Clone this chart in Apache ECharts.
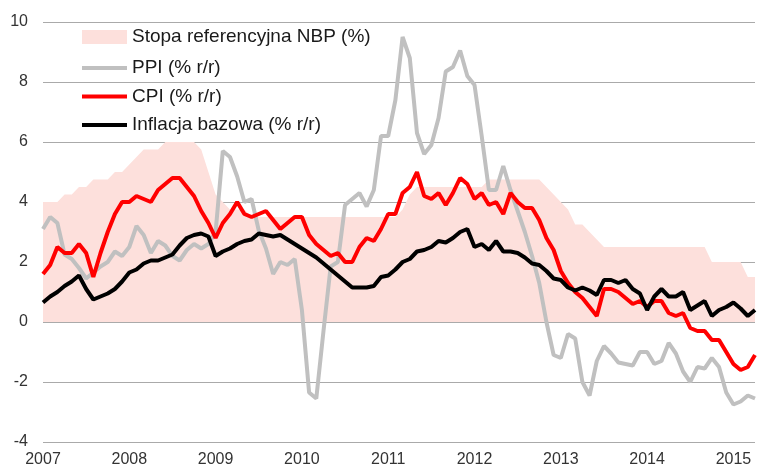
<!DOCTYPE html>
<html>
<head>
<meta charset="utf-8">
<script src="https://cdn.jsdelivr.net/npm/echarts@6/dist/echarts.min.js"></script>
<style>
  html, body { margin: 0; padding: 0; background: #fff; }
  #chart { width: 758px; height: 472px; }
</style>
</head>
<body>
<div id="chart"></div>
<script>
// miesiace od 2007-01 do 2015-04
var years = ['2007', '2008', '2009', '2010', '2011', '2012', '2013', '2014', '2015'];
var months = [];
for (var y = 0; y < years.length; y++) {
  for (var m = 1; m <= 12; m++) {
    if (years[y] === '2015' && m > 4) break;
    months.push(years[y] + '-' + (m < 10 ? '0' + m : m));
  }
}

// stopa referencyjna NBP (%)
var stopaRef = [
  4, 4, 4, 4.25, 4.25, 4.5, 4.5, 4.75, 4.75, 4.75, 5, 5,
  5.25, 5.5, 5.75, 5.75, 5.75, 6, 6, 6, 6, 6, 5.75, 5,
  4.25, 4, 3.75, 3.75, 3.75, 3.5, 3.5, 3.5, 3.5, 3.5, 3.5, 3.5,
  3.5, 3.5, 3.5, 3.5, 3.5, 3.5, 3.5, 3.5, 3.5, 3.5, 3.5, 3.5,
  3.5, 3.5, 3.75, 4.25, 4.5, 4.5, 4.5, 4.5, 4.5, 4.5, 4.5, 4.5,
  4.5, 4.5, 4.75, 4.75, 4.75, 4.75, 4.75, 4.75, 4.75, 4.75, 4.5, 4.25,
  4, 3.75, 3.25, 3.25, 3, 2.75, 2.5, 2.5, 2.5, 2.5, 2.5, 2.5,
  2.5, 2.5, 2.5, 2.5, 2.5, 2.5, 2.5, 2.5, 2.5, 2, 2, 2,
  2, 2, 1.5, 1.5
];

// PPI (% r/r)
var ppi = [
  3.1, 3.5, 3.3, 2.25, 2.1, 1.8, 1.45, 1.65, 1.85, 2.0, 2.35, 2.2,
  2.5, 3.2, 2.9, 2.3, 2.7, 2.55, 2.2, 2.05, 2.4, 2.6, 2.45, 2.6,
  3.0, 5.7, 5.5, 4.85, 4.0, 4.1, 3.05, 2.45, 1.6, 2.0, 1.9, 2.1,
  0.4, -2.35, -2.55, -0.3, 1.85, 2.0, 3.9, 4.1, 4.3, 3.85, 4.4, 6.2,
  6.2, 7.4, 9.5, 8.8, 6.3, 5.6, 5.9, 6.8, 8.35, 8.5, 9.05, 8.2,
  7.9, 6.2, 4.4, 4.4, 5.2, 4.4, 3.7, 3.0, 2.2, 1.3, 0.0, -1.1,
  -1.2, -0.4, -0.55, -2.0, -2.45, -1.3, -0.8, -1.05, -1.35, -1.4, -1.45, -1.0,
  -1.0, -1.4, -1.3, -0.7, -1.05, -1.65, -2.0, -1.5, -1.55, -1.2, -1.5, -2.35,
  -2.75, -2.65, -2.45, -2.55
];

// CPI (% r/r)
var cpi = [
  1.6, 1.9, 2.5, 2.3, 2.3, 2.6, 2.3, 1.5, 2.3, 3.0, 3.6, 4.0,
  4.0, 4.2, 4.1, 4.0, 4.4, 4.6, 4.8, 4.8, 4.5, 4.2, 3.7, 3.3,
  2.8, 3.3, 3.6, 4.0, 3.6, 3.5, 3.6, 3.7, 3.4, 3.1, 3.3, 3.5,
  3.5, 2.9, 2.6, 2.4, 2.2, 2.3, 2.0, 2.0, 2.5, 2.8, 2.7, 3.1,
  3.6, 3.6, 4.3, 4.5, 5.0, 4.2, 4.1, 4.3, 3.9, 4.3, 4.8, 4.6,
  4.1, 4.3, 3.9, 4.0, 3.6, 4.3, 4.0, 3.8, 3.8, 3.4, 2.8, 2.4,
  1.7, 1.3, 1.0, 0.8, 0.5, 0.2, 1.1, 1.1, 1.0, 0.8, 0.6, 0.7,
  0.5, 0.7, 0.7, 0.3, 0.2, 0.3, -0.2, -0.3, -0.3, -0.6, -0.6, -1.0,
  -1.4, -1.6, -1.5, -1.1
];

// inflacja bazowa (% r/r)
var bazowa = [
  0.65, 0.85, 1.0, 1.2, 1.35, 1.55, 1.1, 0.75, 0.85, 0.95, 1.1, 1.35,
  1.65, 1.75, 1.95, 2.05, 2.05, 2.15, 2.25, 2.55, 2.8, 2.9, 2.95, 2.85,
  2.2, 2.35, 2.45, 2.6, 2.7, 2.75, 2.95, 2.9, 2.85, 2.9, 2.75, 2.6,
  2.45, 2.3, 2.15, 1.95, 1.75, 1.55, 1.35, 1.15, 1.15, 1.15, 1.2, 1.5,
  1.55, 1.75, 2.0, 2.1, 2.35, 2.4, 2.5, 2.7, 2.65, 2.8, 3.0, 3.1,
  2.5, 2.6, 2.4, 2.7, 2.35, 2.35, 2.3, 2.15, 1.95, 1.9, 1.7, 1.45,
  1.4, 1.15, 1.05, 1.15, 1.05, 0.9, 1.4, 1.4, 1.3, 1.4, 1.1, 0.95,
  0.4, 0.85, 1.1, 0.85, 0.85, 1.0, 0.4, 0.55, 0.7, 0.2, 0.4, 0.5,
  0.65, 0.45, 0.2, 0.4
];

var nazwy = ['Stopa referencyjna NBP (%)', 'PPI (% r/r)', 'CPI (% r/r)', 'Inflacja bazowa (% r/r)'];

var chart = echarts.init(document.getElementById('chart'));
var legendText = { fontSize: 19, color: '#1a1a1a', lineHeight: 20 };
var option = {
  animation: false,
  textStyle: { fontFamily: 'Liberation Sans, Arial, sans-serif' },
  grid: { left: 43, right: 3, top: 22, bottom: 30 },
  // dwie legendy: prostokat dla stopy i kreski dla linii
  legend: [
    {
      orient: 'vertical',
      left: 82,
      top: 27,
      padding: 0,
      itemWidth: 45,
      itemHeight: 14,
      icon: 'rect',
      textStyle: legendText,
      data: [nazwy[0]]
    },
    {
      orient: 'vertical',
      left: 82,
      top: 58,
      padding: 0,
      itemWidth: 45,
      itemHeight: 4,
      itemGap: 8.5,
      icon: 'rect',
      textStyle: legendText,
      data: nazwy.slice(1)
    }
  ],
  xAxis: {
    type: 'category',
    data: months,
    boundaryGap: false,
    axisLine: { show: false },
    axisTick: { show: false },
    axisLabel: {
      interval: 11,
      margin: 10,
      fontSize: 16,
      color: '#333',
      formatter: function (v) { return v.slice(0, 4); }
    }
  },
  yAxis: {
    type: 'value',
    min: -4,
    max: 10,
    interval: 2,
    axisLine: { show: false },
    axisTick: { show: false },
    axisLabel: { fontSize: 16, color: '#333', margin: 15 },
    splitLine: { lineStyle: { color: '#aaaaaa', width: 1 } }
  },
  series: [
    {
      name: nazwy[0],
      type: 'line',
      data: stopaRef,
      symbol: 'none',
      color: '#fde0dc',
      lineStyle: { width: 0 },
      areaStyle: { color: '#fde0dc', opacity: 1 }
    },
    {
      name: nazwy[1],
      type: 'line',
      data: ppi,
      symbol: 'none',
      color: '#c0c0c0',
      lineStyle: { width: 4, color: '#c0c0c0' }
    },
    {
      name: nazwy[2],
      type: 'line',
      data: cpi,
      symbol: 'none',
      color: '#ff0000',
      lineStyle: { width: 4, color: '#ff0000' }
    },
    {
      name: nazwy[3],
      type: 'line',
      data: bazowa,
      symbol: 'none',
      color: '#000000',
      lineStyle: { width: 4, color: '#000000' }
    }
  ]
};
chart.setOption(option);
</script>
</body>
</html>
